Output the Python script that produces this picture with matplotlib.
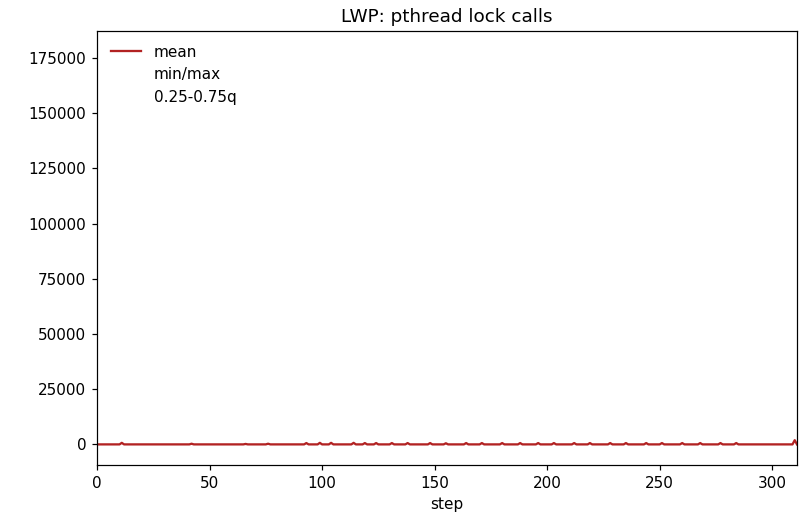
import numpy as np
import matplotlib
matplotlib.use('Agg')
import matplotlib.pyplot as plt

# steps of the run
n_steps = 312
steps = np.arange(n_steps)

# small bumps of the mean curve (step, value)
bump_steps = [11, 42, 66, 76, 93, 99, 104, 114, 119, 124, 131, 138, 148, 155,
              164, 171, 180, 188, 196, 203, 212, 219, 228, 235, 244, 251,
              260, 268, 277, 284, 310]
bump_vals = [700, 300, 200, 300, 600, 700, 700, 700, 600, 600, 600, 600, 600, 500,
             600, 600, 600, 600, 600, 600, 600, 600, 600, 600, 600, 600,
             600, 600, 600, 600, 1900]

mean = np.zeros(n_steps)
mean[bump_steps] = bump_vals

dpi = 110
fig = plt.figure(figsize=(812 / dpi, 516 / dpi), dpi=dpi)
ax = fig.add_axes([0.1195, 0.099, 0.862, 0.841])

ax.plot(steps, mean, color='firebrick', lw=1.5, label='mean')
# spread bands are drawn fully transparent in the original
ax.fill_between(steps, mean, mean, color='firebrick', alpha=0, label='min/max')
ax.fill_between(steps, mean, mean, color='firebrick', alpha=0, label='0.25-0.75q')

ax.set_xlim(0, 311)
ax.set_ylim(-9300, 187300)
ax.set_xlabel('step')
ax.set_title('LWP: pthread lock calls')
ax.legend(loc='upper left', frameon=False)

fig.savefig('out.png', dpi=dpi)
